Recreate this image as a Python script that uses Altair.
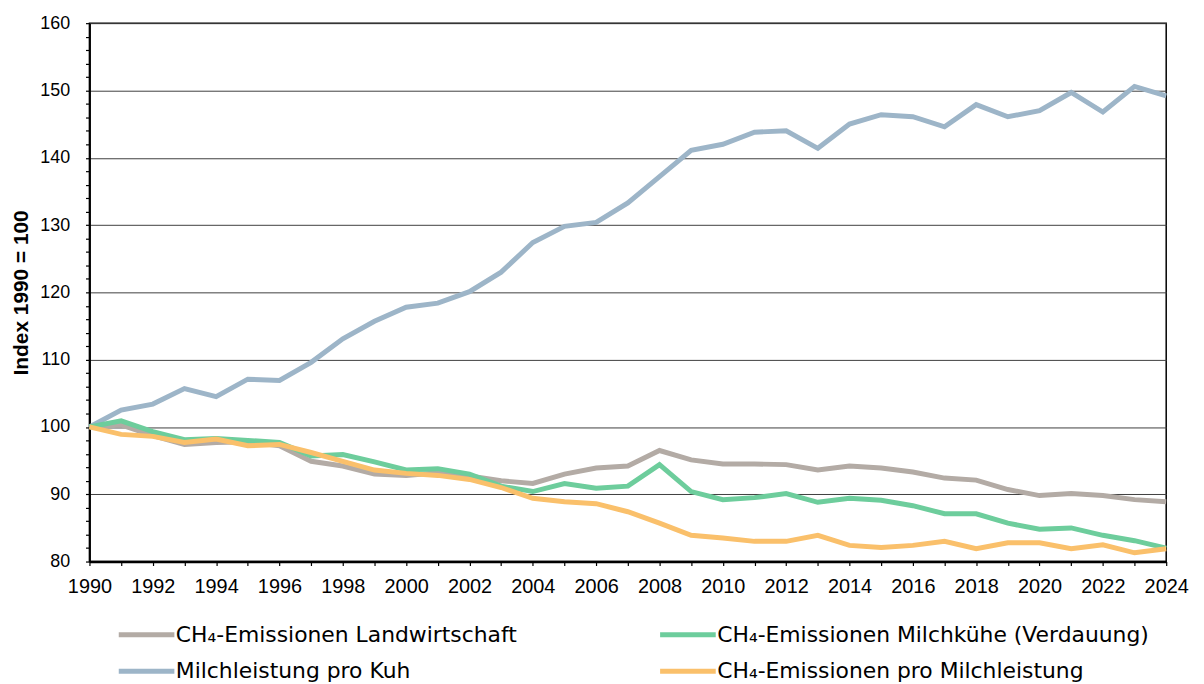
import altair as alt
import pandas as pd

years = list(range(1990, 2025))

# legend order (column-major grid): row1 = Landwirtschaft | Milchkühe, row2 = Milchleistung | pro Milchleistung
series_names = [
    "CH₄-Emissionen Landwirtschaft",
    "Milchleistung pro Kuh",
    "CH₄-Emissionen Milchkühe (Verdauung)",
    "CH₄-Emissionen pro Milchleistung",
]
series_colors = ["#B3ABA5", "#9DB5C8", "#6DCD9C", "#FAC06B"]

landwirtschaft = [100, 100.3, 98.7, 97.4, 97.7, 97.8, 97.2, 94.9, 94.2, 93.0,
                  92.8, 93.2, 92.7, 92.0, 91.6, 93.0, 93.9, 94.2, 96.5, 95.1,
                  94.5, 94.5, 94.4, 93.6, 94.2, 93.9, 93.3, 92.4, 92.1, 90.7,
                  89.8, 90.1, 89.8, 89.2, 88.9]
milchkuehe = [100, 100.9, 99.3, 98.1, 98.3, 98.0, 97.7, 95.7, 95.9, 94.8,
              93.6, 93.8, 93.0, 91.2, 90.4, 91.6, 90.9, 91.2, 94.4, 90.4,
              89.2, 89.5, 90.1, 88.8, 89.4, 89.1, 88.3, 87.1, 87.1, 85.7,
              84.8, 85.0, 83.9, 83.1, 82.0]
milchleistung = [100, 102.5, 103.4, 105.7, 104.5, 107.1, 106.9, 109.6, 113.1, 115.7,
                 117.8, 118.4, 120.1, 123.0, 127.4, 129.8, 130.4, 133.3, 137.2, 141.1,
                 142.0, 143.8, 144.0, 141.4, 145.0, 146.4, 146.1, 144.6, 147.9, 146.1,
                 147.0, 149.7, 146.8, 150.6, 149.2]
pro_milchleistung = [100, 98.9, 98.6, 97.7, 98.2, 97.2, 97.4, 96.2, 94.9, 93.6,
                     93.1, 92.8, 92.2, 91.0, 89.4, 88.9, 88.6, 87.4, 85.7, 83.9,
                     83.5, 83.0, 83.0, 83.9, 82.4, 82.1, 82.4, 83.0, 81.9, 82.8,
                     82.8, 81.9, 82.5, 81.3, 81.9]

# drawing order (z): gray, blue, green, orange
draw_order = [
    ("CH₄-Emissionen Landwirtschaft", landwirtschaft),
    ("Milchleistung pro Kuh", milchleistung),
    ("CH₄-Emissionen Milchkühe (Verdauung)", milchkuehe),
    ("CH₄-Emissionen pro Milchleistung", pro_milchleistung),
]
rows = []
for name, vals in draw_order:
    for y, v in zip(years, vals):
        rows.append({"Jahr": y, "Wert": v, "Reihe": name})
df = pd.DataFrame(rows)

AX_FONT = "Liberation Sans"

x_axis = alt.Axis(
    values=years,
    labelExpr="datum.value % 2 == 0 ? datum.label : ''",
    format="d",
    tickSize=4,
    tickColor="black",
    tickWidth=1.2,
    labelPadding=11,
    labelFlush=False,
    labelOverlap=False,
    grid=False,
    domainColor="black",
    domainWidth=2.5,
    labelFont=AX_FONT,
    labelFontSize=20,
    labelColor="black",
    title=None,
)

y_axis = alt.Axis(
    values=list(range(80, 161, 2)),
    labelExpr="datum.value % 10 == 0 ? datum.label : ''",
    gridOpacity={"condition": {"test": "datum.value % 10 == 0", "value": 1}, "value": 0},
    gridColor="#404040",
    gridWidth=1,
    tickSize=4,
    tickColor="black",
    tickWidth=1.2,
    labelPadding=16,
    labelOverlap=False,
    domainColor="black",
    domainWidth=2,
    labelFont=AX_FONT,
    labelFontSize=18,
    labelColor="black",
    title="Index 1990 = 100",
    titleFont=AX_FONT,
    titleFontWeight="bold",
    titleFontSize=21,
    titleColor="black",
    titlePadding=8,
)

legend = alt.Legend(
    orient="none",
    legendX=45,
    legendY=603,
    columns=2,
    title=None,
    symbolType="M-2.8,0H2.8",
    symbolSize=400,
    symbolStrokeWidth=5,
    labelOffset=17,
    labelFont="DejaVu Sans",
    labelFontSize=22,
    labelColor="black",
    labelLimit=0,
    columnPadding=133,
    rowPadding=13,
    padding=0,
)

chart = (
    alt.Chart(df)
    .mark_line(strokeWidth=5)
    .encode(
        x=alt.X("Jahr:Q", scale=alt.Scale(domain=[1990, 2024], nice=False, zero=False), axis=x_axis),
        y=alt.Y("Wert:Q", scale=alt.Scale(domain=[80, 160], nice=False, zero=False), axis=y_axis),
        color=alt.Color("Reihe:N", scale=alt.Scale(domain=series_names, range=series_colors), legend=legend),
        detail="Reihe:N",
    )
    .properties(
        width=1084,
        height=542,
        autosize=alt.AutoSizeParams(type="none"),
        padding={"left": 82, "top": 13, "right": 30, "bottom": 120},
        background="white",
    )
    .configure_view(stroke="black", strokeWidth=1.5)
)

chart.save("out.html", embed_options={"renderer": "svg", "actions": False})
